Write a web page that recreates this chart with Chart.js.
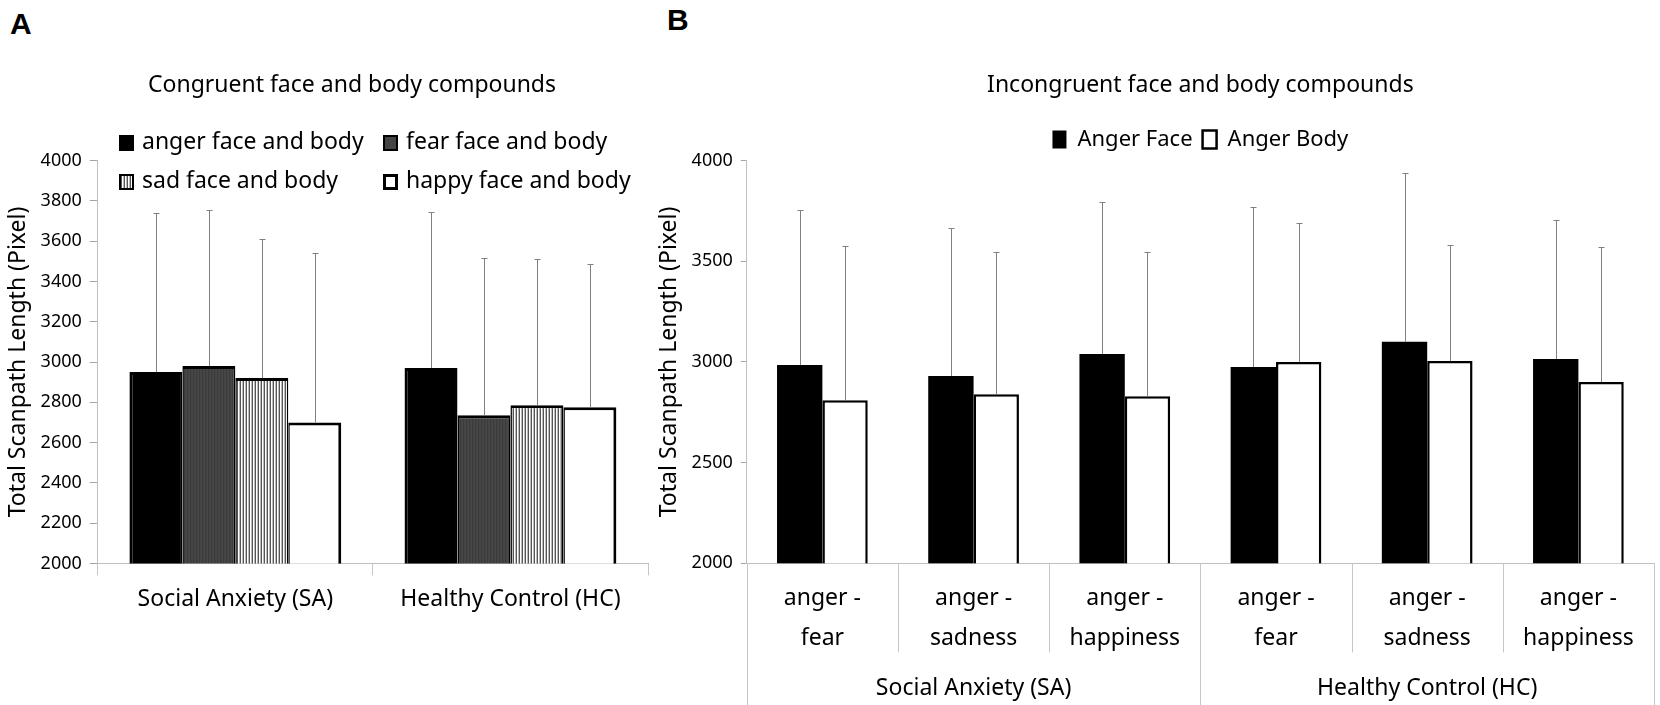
<!DOCTYPE html>
<html>
<head>
<meta charset="utf-8">
<title>Total Scanpath Length</title>
<script src="https://cdn.jsdelivr.net/npm/chart.js"></script>
<style>
  body { margin: 0; width: 1660px; height: 705px; position: relative; overflow: hidden; background: #fff;
         font-family: "Noto Sans", sans-serif; color: #000; }
  .box { position: absolute; }
  .tag { position: absolute; font: bold 30px "Liberation Sans", Arial, sans-serif; line-height: 1; }
  .leg { position: absolute; font-size: 23px; line-height: 1; white-space: nowrap; }
  .leg i { position: absolute; left: 0; top: 0; width: 15px; height: 16px; box-sizing: border-box; }
  .leg span { position: absolute; left: 23px; top: -6px; }
</style>
</head>
<body>
  <div class="tag" style="left:10px; top:9px;">A</div>
  <div class="tag" style="left:667px; top:5px;">B</div>

  <div class="box" style="left:0; top:0; width:696px; height:705px;"><canvas id="chartA"></canvas></div>
  <div class="box" style="left:640px; top:0; width:1020px; height:705px;"><canvas id="chartB"></canvas></div>

  <!-- legend of panel A sits over the top of the plot, as in the figure -->
  <div class="leg" style="left:119px; top:135px;"><i style="background:#000;"></i><span>anger face and body</span></div>
  <div class="leg" style="left:383px; top:135px;"><i style="background:#444; border:2px solid #000;"></i><span>fear face and body</span></div>
  <div class="leg" style="left:119px; top:174px;"><i style="border:2px solid #000; background:repeating-linear-gradient(90deg,#555 0 1px,#fff 1px 2px,#bbb 2px 3px);"></i><span>sad face and body</span></div>
  <div class="leg" style="left:383px; top:174px;"><i style="background:#fff; border:3px solid #000;"></i><span>happy face and body</span></div>

<script>
  // Panel A: congruent compounds
  var groupLabels = ["Social Anxiety (SA)", "Healthy Control (HC)"];
  var angerMean = [2950, 2970];
  var angerSD   = [790, 775];
  var fearMean  = [2980, 2735];
  var fearSD    = [775, 780];
  var sadMean   = [2920, 2785];
  var sadSD     = [690, 725];
  var happyMean = [2700, 2775];
  var happySD   = [840, 710];

  // Panel B: incongruent compounds
  var pairLabels = [["anger -", "fear"], ["anger -", "sadness"], ["anger -", "happiness"],
                    ["anger -", "fear"], ["anger -", "sadness"], ["anger -", "happiness"]];
  var faceMean = [2985, 2930, 3040, 2975, 3100, 3015];
  var faceSD   = [770, 735, 755, 795, 840, 690];
  var bodyMean = [2810, 2840, 2830, 3000, 3005, 2900];
  var bodySD   = [765, 705, 715, 690, 575, 670];

  Chart.defaults.font.family = '"Noto Sans", sans-serif';
  Chart.defaults.color = "#000";

  // vertical stripes used for the fear / sad fills
  function stripes(ctx, colors) {
    var c = document.createElement("canvas");
    c.width = colors.length; c.height = 1;
    var g = c.getContext("2d");
    colors.forEach(function (col, i) { g.fillStyle = col; g.fillRect(i, 0, 1, 1); });
    return ctx.createPattern(c, "repeat");
  }

  // upward-only error bars (mean + SD)
  function errorBars(sds) {
    return {
      id: "errorBars",
      afterDatasetsDraw: function (chart) {
        var ctx = chart.ctx, y = chart.scales.y;
        ctx.save();
        ctx.strokeStyle = "#808080";
        ctx.lineWidth = 1;
        chart.data.datasets.forEach(function (ds, di) {
          chart.getDatasetMeta(di).data.forEach(function (bar, i) {
            var x = Math.round(bar.x) + 0.5;
            var y0 = y.getPixelForValue(ds.data[i]);
            var y1 = Math.round(y.getPixelForValue(ds.data[i] + sds[di][i])) + 0.5;
            ctx.beginPath();
            ctx.moveTo(x, y0); ctx.lineTo(x, y1);
            ctx.moveTo(x - 3, y1); ctx.lineTo(x + 3, y1);
            ctx.stroke();
          });
        });
        ctx.restore();
      }
    };
  }

  // panel A's title is centred on the whole figure panel, not the plot
  var titleSpan = {
    id: "titleSpan",
    afterLayout: function (chart) {
      var t = chart.titleBlock;
      t.left = 0; t.right = 704; t.width = 704;
    }
  };

  // separators under panel B's category axis
  var dividers = {
    id: "dividers",
    afterDraw: function (chart) {
      var ctx = chart.ctx, x = chart.scales.x, top = chart.chartArea.bottom;
      ctx.save();
      ctx.strokeStyle = "#c6c6c6";
      ctx.lineWidth = 1;
      for (var i = 0; i <= pairLabels.length; i++) {
        var px = Math.round(x.getPixelForValue(i - 0.5)) + 0.5;
        ctx.beginPath();
        ctx.moveTo(px, top);
        ctx.lineTo(px, i % 3 === 0 ? chart.height : top + 89);
        ctx.stroke();
      }
      ctx.restore();
    }
  };

  function yAxis(step, tickLen) {
    return {
      min: 2000, max: 4000,
      ticks: { stepSize: step, font: { size: 18 }, padding: 8,
               callback: function (v) { return String(v); } },
      grid: { drawOnChartArea: false, tickLength: tickLen, color: "#a6a6a6" },
      border: { color: "#bfbfbf" },
      title: { display: true, text: "Total Scanpath Length (Pixel)", font: { size: 23 }, padding: 0 }
    };
  }

  // ---- chart A ----
  var ctxA = document.getElementById("chartA").getContext("2d");
  new Chart(ctxA, {
    type: "bar",
    data: {
      labels: groupLabels,
      datasets: [
        { label: "anger face and body", data: angerMean, backgroundColor: "#000", borderColor: "#000",
          borderWidth: { top: 3, left: 3, right: 1.5 } },
        { label: "fear face and body", data: fearMean, backgroundColor: stripes(ctxA, ["#474747", "#3b3b3b", "#444"]),
          borderColor: "#000", borderWidth: { top: 3, left: 1.5, right: 1.5 } },
        { label: "sad face and body", data: sadMean, backgroundColor: stripes(ctxA, ["#555", "#fff", "#bbb"]),
          borderColor: "#000", borderWidth: { top: 3, left: 1.5, right: 1.5 } },
        { label: "happy face and body", data: happyMean, backgroundColor: "#fff", borderColor: "#000",
          borderWidth: { top: 3, left: 1.5, right: 3 } }
      ]
    },
    options: {
      responsive: true,
      maintainAspectRatio: false,
      animation: false,
      layout: { padding: { left: 5, right: 48, top: 0, bottom: 82 } },
      datasets: { bar: { categoryPercentage: 0.77, barPercentage: 1 } },
      plugins: {
        legend: { display: false },
        tooltip: { enabled: false },
        title: { display: true, text: "Congruent face and body compounds",
                 font: { size: 23, weight: "normal" }, padding: { top: 72, bottom: 61 } }
      },
      scales: {
        x: {
          grid: { drawOnChartArea: false, offset: true, tickLength: 12, color: "#c6c6c6" },
          border: { color: "#bfbfbf" },
          ticks: { font: { size: 23 }, padding: 10 }
        },
        y: yAxis(200, 8)
      }
    },
    plugins: [errorBars([angerSD, fearSD, sadSD, happySD]), titleSpan]
  });

  // ---- chart B ----
  var ctxB = document.getElementById("chartB").getContext("2d");
  new Chart(ctxB, {
    type: "bar",
    data: {
      labels: pairLabels,
      datasets: [
        { label: "Anger Face", data: faceMean, backgroundColor: "#000", borderColor: "#000", borderWidth: 0 },
        { label: "Anger Body", data: bodyMean, backgroundColor: "#fff", borderColor: "#000", borderWidth: 2.5 }
      ]
    },
    options: {
      responsive: true,
      maintainAspectRatio: false,
      animation: false,
      layout: { padding: { left: 16, right: 6, top: 0, bottom: 2 } },
      datasets: { bar: { categoryPercentage: 0.6, barPercentage: 1 } },
      plugins: {
        legend: {
          fullSize: false,
          labels: { boxWidth: 14, boxHeight: 18, padding: 10, font: { size: 22 } }
        },
        tooltip: { enabled: false },
        title: { display: true, fullSize: false, text: "Incongruent face and body compounds",
                 font: { size: 23, weight: "normal" }, padding: { top: 72, bottom: 19 } }
      },
      scales: {
        x: {
          grid: { drawOnChartArea: false, drawTicks: false, color: "#c6c6c6" },
          border: { color: "#bfbfbf" },
          ticks: { font: { size: 23, lineHeight: 1.74 }, padding: 15 }
        },
        x2: {
          type: "category",
          labels: groupLabels,
          position: "bottom",
          offset: true,
          grid: { display: false, drawTicks: false },
          border: { display: false },
          ticks: { font: { size: 23 }, padding: 1 }
        },
        y: yAxis(500, 6)
      }
    },
    plugins: [errorBars([faceSD, bodySD]), dividers]
  });
</script>
</body>
</html>
